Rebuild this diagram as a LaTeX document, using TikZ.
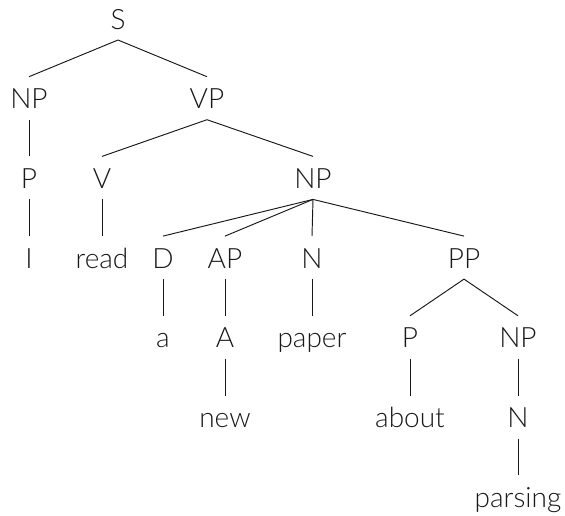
\documentclass[tikz,border=0pt]{standalone}
\usepackage{fontspec}
\setmainfont{Lato}[UprightFont={* Light}]
\newcommand\tedge[2]{\draw[treeline] ([yshift=-11pt]#1.base) -- ([yshift=32pt]#2.base);}
\begin{document}
\begin{tikzpicture}[x=1pt,y=-1pt,
  lbl/.style={anchor=base,inner sep=0pt,font=\fontsize{28}{34}\selectfont,text=black!90},
  treeline/.style={draw=black!90,line width=0.95pt}]
\useasboundingbox (0,0) rectangle (565,515);
\node[lbl] (S) at (118,29) {S};
\node[lbl] (NPa) at (29,108.7) {NP};
\node[lbl] (VP) at (207,108.7) {VP};
\node[lbl] (Pa) at (29,188.4) {P};
\node[lbl] (V) at (102,188.4) {V};
\node[lbl] (NPb) at (313,188.4) {NP};
\node[lbl] (I) at (29,268.1) {I};
\node[lbl] (read) at (102,268.1) {read};
\node[lbl] (D) at (163,268.1) {D};
\node[lbl] (AP) at (225,268.1) {AP};
\node[lbl] (Na) at (312,268.1) {N};
\node[lbl] (PP) at (464,268.1) {PP};
\node[lbl] (a) at (163,347.8) {a};
\node[lbl] (A) at (225,347.8) {A};
\node[lbl] (paper) at (312,347.8) {paper};
\node[lbl] (Pb) at (410,347.8) {P};
\node[lbl] (NPc) at (518,347.8) {NP};
\node[lbl] (new) at (225,427.5) {new};
\node[lbl] (about) at (410,427.5) {about};
\node[lbl] (Nb) at (518,427.5) {N};
\node[lbl] (parsing) at (518,507.2) {parsing};
\tedge{S}{NPa}
\tedge{S}{VP}
\tedge{NPa}{Pa}
\tedge{VP}{V}
\tedge{VP}{NPb}
\tedge{Pa}{I}
\tedge{V}{read}
\tedge{NPb}{D}
\tedge{NPb}{AP}
\tedge{NPb}{Na}
\tedge{NPb}{PP}
\tedge{D}{a}
\tedge{AP}{A}
\tedge{Na}{paper}
\tedge{PP}{Pb}
\tedge{PP}{NPc}
\tedge{A}{new}
\tedge{Pb}{about}
\tedge{NPc}{Nb}
\tedge{Nb}{parsing}
\end{tikzpicture}
\end{document}
